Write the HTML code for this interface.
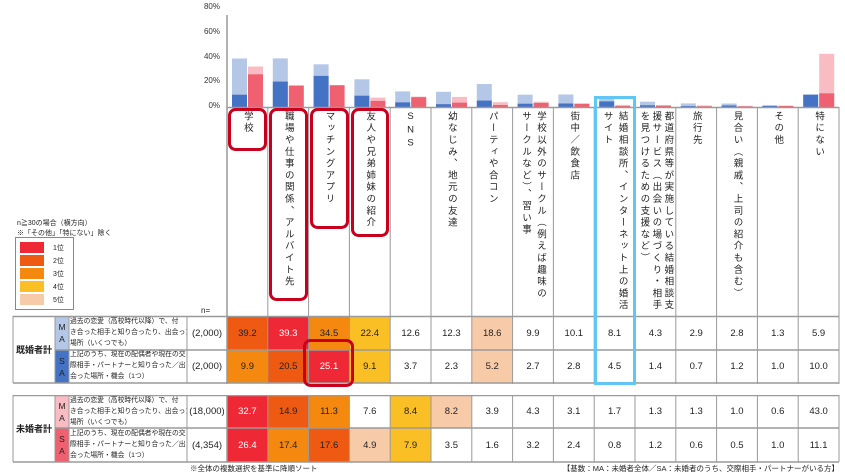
<!DOCTYPE html>
<html><head><meta charset="utf-8">
<style>
*{margin:0;padding:0;box-sizing:border-box}
body{width:845px;height:475px;background:#fff;position:relative;overflow:hidden;font-family:"Liberation Sans","Noto Sans CJK JP",sans-serif;color:#222}
.a{position:absolute}
.yl{position:absolute;right:625px;font-size:8px;color:#333}
.hd{position:absolute;top:111px;width:40.8px;height:205px;display:flex;justify-content:center}
.hd div{writing-mode:vertical-rl;text-orientation:upright;font-size:9.5px;letter-spacing:2.3px;line-height:15px;color:#222;white-space:nowrap}
.c{position:absolute;width:40.8px;display:flex;align-items:center;justify-content:center;font-size:9.5px;color:#222}
.w{color:#fff}
.desc{position:absolute;left:70px;width:117px;font-size:6.8px;line-height:10.8px;color:#222;white-space:nowrap;overflow:hidden}
.n{position:absolute;left:187px;width:40px;display:flex;align-items:center;justify-content:center;font-size:9.5px}
.sub{position:absolute;left:55px;width:14px;display:flex;align-items:center;justify-content:center;font-size:8.5px;line-height:12px;text-align:center}
.grp{position:absolute;left:13px;width:42px;display:flex;align-items:center;justify-content:center;font-size:9px;font-weight:bold}
.r1{background:#ee2835}.r2{background:#ef5a13}.r3{background:#f5880e}.r4{background:#f9bf25}.r5{background:#f8cba8}
</style></head><body>

<div class="yl" style="top:2px">80%</div>
<div class="yl" style="top:27px">60%</div>
<div class="yl" style="top:52px">40%</div>
<div class="yl" style="top:76px">20%</div>
<div class="yl" style="top:101px">0%</div>

<div class="c r2" style="left:227px;top:316px;height:34px">39.2</div>
<div class="c r1 w" style="left:267.8px;top:316px;height:34px">39.3</div>
<div class="c r3" style="left:308.6px;top:316px;height:34px">34.5</div>
<div class="c r4" style="left:349.4px;top:316px;height:34px">22.4</div>
<div class="c" style="left:390.2px;top:316px;height:34px">12.6</div>
<div class="c" style="left:431px;top:316px;height:34px">12.3</div>
<div class="c r5" style="left:471.8px;top:316px;height:34px">18.6</div>
<div class="c" style="left:512.6px;top:316px;height:34px">9.9</div>
<div class="c" style="left:553.4px;top:316px;height:34px">10.1</div>
<div class="c" style="left:594.2px;top:316px;height:34px">8.1</div>
<div class="c" style="left:635px;top:316px;height:34px">4.3</div>
<div class="c" style="left:675.8px;top:316px;height:34px">2.9</div>
<div class="c" style="left:716.6px;top:316px;height:34px">2.8</div>
<div class="c" style="left:757.4px;top:316px;height:34px">1.3</div>
<div class="c" style="left:798.2px;top:316px;height:34px">5.9</div>

<div class="c r3" style="left:227px;top:350px;height:33px">9.9</div>
<div class="c r2" style="left:267.8px;top:350px;height:33px">20.5</div>
<div class="c r1 w" style="left:308.6px;top:350px;height:33px">25.1</div>
<div class="c r4" style="left:349.4px;top:350px;height:33px">9.1</div>
<div class="c" style="left:390.2px;top:350px;height:33px">3.7</div>
<div class="c" style="left:431px;top:350px;height:33px">2.3</div>
<div class="c r5" style="left:471.8px;top:350px;height:33px">5.2</div>
<div class="c" style="left:512.6px;top:350px;height:33px">2.7</div>
<div class="c" style="left:553.4px;top:350px;height:33px">2.8</div>
<div class="c" style="left:594.2px;top:350px;height:33px">4.5</div>
<div class="c" style="left:635px;top:350px;height:33px">1.4</div>
<div class="c" style="left:675.8px;top:350px;height:33px">0.7</div>
<div class="c" style="left:716.6px;top:350px;height:33px">1.2</div>
<div class="c" style="left:757.4px;top:350px;height:33px">1.0</div>
<div class="c" style="left:798.2px;top:350px;height:33px">10.0</div>

<div class="c r1 w" style="left:227px;top:395px;height:33px">32.7</div>
<div class="c r2" style="left:267.8px;top:395px;height:33px">14.9</div>
<div class="c r3" style="left:308.6px;top:395px;height:33px">11.3</div>
<div class="c" style="left:349.4px;top:395px;height:33px">7.6</div>
<div class="c r4" style="left:390.2px;top:395px;height:33px">8.4</div>
<div class="c r5" style="left:431px;top:395px;height:33px">8.2</div>
<div class="c" style="left:471.8px;top:395px;height:33px">3.9</div>
<div class="c" style="left:512.6px;top:395px;height:33px">4.3</div>
<div class="c" style="left:553.4px;top:395px;height:33px">3.1</div>
<div class="c" style="left:594.2px;top:395px;height:33px">1.7</div>
<div class="c" style="left:635px;top:395px;height:33px">1.3</div>
<div class="c" style="left:675.8px;top:395px;height:33px">1.3</div>
<div class="c" style="left:716.6px;top:395px;height:33px">1.0</div>
<div class="c" style="left:757.4px;top:395px;height:33px">0.6</div>
<div class="c" style="left:798.2px;top:395px;height:33px">43.0</div>

<div class="c r1 w" style="left:227px;top:428px;height:34px">26.4</div>
<div class="c r3" style="left:267.8px;top:428px;height:34px">17.4</div>
<div class="c r2" style="left:308.6px;top:428px;height:34px">17.6</div>
<div class="c r5" style="left:349.4px;top:428px;height:34px">4.9</div>
<div class="c r4" style="left:390.2px;top:428px;height:34px">7.9</div>
<div class="c" style="left:431px;top:428px;height:34px">3.5</div>
<div class="c" style="left:471.8px;top:428px;height:34px">1.6</div>
<div class="c" style="left:512.6px;top:428px;height:34px">3.2</div>
<div class="c" style="left:553.4px;top:428px;height:34px">2.4</div>
<div class="c" style="left:594.2px;top:428px;height:34px">0.8</div>
<div class="c" style="left:635px;top:428px;height:34px">1.2</div>
<div class="c" style="left:675.8px;top:428px;height:34px">0.6</div>
<div class="c" style="left:716.6px;top:428px;height:34px">0.5</div>
<div class="c" style="left:757.4px;top:428px;height:34px">1.0</div>
<div class="c" style="left:798.2px;top:428px;height:34px">11.1</div>

<div class="grp" style="top:316px;height:67px">既婚者計</div>
<div class="grp" style="top:395px;height:67px">未婚者計</div>
<div class="sub" style="top:316px;height:34px;background:#b4c7e7">M<br>A</div>
<div class="sub" style="top:350px;height:33px;background:#4472c4">S<br>A</div>
<div class="sub" style="top:395px;height:33px;background:#f8bcc2">M<br>A</div>
<div class="sub" style="top:428px;height:34px;background:#ef6170">S<br>A</div>
<div class="desc" style="top:317px">過去の恋愛（高校時代以降）で、付<br>き合った相手と知り合ったり、出会った<br>場所（いくつでも）</div>
<div class="desc" style="top:350px">上記のうち、現在の配偶者や現在の交<br>際相手・パートナーと知り合った／出<br>会った場所・機会（1つ）</div>
<div class="desc" style="top:396px">過去の恋愛（高校時代以降）で、付<br>き合った相手と知り合ったり、出会った<br>場所（いくつでも）</div>
<div class="desc" style="top:429px">上記のうち、現在の配偶者や現在の交<br>際相手・パートナーと知り合った／出<br>会った場所・機会（1つ）</div>
<div class="n" style="top:316px;height:34px">(2,000)</div>
<div class="n" style="top:350px;height:33px">(2,000)</div>
<div class="n" style="top:395px;height:33px">(18,000)</div>
<div class="n" style="top:428px;height:34px">(4,354)</div>
<div class="a" style="left:201px;top:306px;font-size:8px">n=</div>

<div class="a" style="right:6px;top:384px;font-size:7.5px">【基数：既婚者】</div>
<div class="a" style="right:6px;top:463px;font-size:7.5px">【基数：MA：未婚者全体／SA：未婚者のうち、交際相手・パートナーがいる方】</div>
<div class="a" style="left:190px;top:463px;font-size:7.5px">※全体の複数選択を基準に降順ソート</div>

<div class="a" style="left:17px;top:218px;font-size:7px">n≧30の場合（横方向）</div>
<div class="a" style="left:17px;top:228px;font-size:7px">※「その他」「特にない」除く</div>
<div class="a" style="left:15px;top:237px;width:59px;height:73px;border:1.5px solid #888"></div>
<div class="a r1" style="left:20px;top:242px;width:24px;height:11px"></div>
<div class="a r2" style="left:20px;top:255px;width:24px;height:11px"></div>
<div class="a r3" style="left:20px;top:268px;width:24px;height:11px"></div>
<div class="a r4" style="left:20px;top:281px;width:24px;height:11px"></div>
<div class="a r5" style="left:20px;top:294px;width:24px;height:11px"></div>
<div class="a" style="left:53px;top:243px;font-size:7px">1位</div>
<div class="a" style="left:53px;top:256px;font-size:7px">2位</div>
<div class="a" style="left:53px;top:269px;font-size:7px">3位</div>
<div class="a" style="left:53px;top:282px;font-size:7px">4位</div>
<div class="a" style="left:53px;top:295px;font-size:7px">5位</div>

<div class="hd" style="left:227px"><div>学校</div></div>
<div class="hd" style="left:267.8px"><div>職場や仕事の関係、アルバイト先</div></div>
<div class="hd" style="left:308.6px"><div>マッチングアプリ</div></div>
<div class="hd" style="left:349.4px"><div>友人や兄弟姉妹の紹介</div></div>
<div class="hd" style="left:390.2px"><div>SNS</div></div>
<div class="hd" style="left:431px"><div>幼なじみ、地元の友達</div></div>
<div class="hd" style="left:471.8px"><div>パーティや合コン</div></div>
<div class="hd" style="left:512.6px"><div>学校以外のサークル（例えば趣味の<br>サークルなど）、習い事</div></div>
<div class="hd" style="left:553.4px"><div>街中／飲食店</div></div>
<div class="hd" style="left:594.2px"><div>結婚相談所、インターネット上の婚活<br>サイト</div></div>
<div class="hd" style="left:635px"><div style="line-height:12px">都道府県等が実施している結婚相談支<br>援サービス（出会いの場づくり・相手<br>を見つけるための支援など）</div></div>
<div class="hd" style="left:675.8px"><div>旅行先</div></div>
<div class="hd" style="left:716.6px"><div>見合い（親戚、上司の紹介も含む）</div></div>
<div class="hd" style="left:757.4px"><div>その他</div></div>
<div class="hd" style="left:798.2px"><div>特にない</div></div>

<svg class="a" style="left:0;top:0" width="845" height="475" viewBox="0 0 845 475">
<g>
<g transform="translate(227,107)"><rect x="5" y="-48.5" width="15" height="48.5" fill="#b4c7e7"/><rect x="5" y="-12.3" width="15" height="12.3" fill="#4472c4"/><rect x="21" y="-40.5" width="15" height="40.5" fill="#f8bcc2"/><rect x="21" y="-32.7" width="15" height="32.7" fill="#ef6170"/></g>
<g transform="translate(267.8,107)"><rect x="5" y="-48.6" width="15" height="48.6" fill="#b4c7e7"/><rect x="5" y="-25.4" width="15" height="25.4" fill="#4472c4"/><rect x="21" y="-21.5" width="15" height="21.5" fill="#ef6170"/></g>
<g transform="translate(308.6,107)"><rect x="5" y="-42.7" width="15" height="42.7" fill="#b4c7e7"/><rect x="5" y="-31.1" width="15" height="31.1" fill="#4472c4"/><rect x="21" y="-21.8" width="15" height="21.8" fill="#ef6170"/></g>
<g transform="translate(349.4,107)"><rect x="5" y="-27.7" width="15" height="27.7" fill="#b4c7e7"/><rect x="5" y="-11.3" width="15" height="11.3" fill="#4472c4"/><rect x="21" y="-9.4" width="15" height="9.4" fill="#f8bcc2"/><rect x="21" y="-6.1" width="15" height="6.1" fill="#ef6170"/></g>
<g transform="translate(390.2,107)"><rect x="5" y="-15.6" width="15" height="15.6" fill="#b4c7e7"/><rect x="5" y="-4.6" width="15" height="4.6" fill="#4472c4"/><rect x="21" y="-10.4" width="15" height="10.4" fill="#f8bcc2"/><rect x="21" y="-9.8" width="15" height="9.8" fill="#ef6170"/></g>
<g transform="translate(431,107)"><rect x="5" y="-15.2" width="15" height="15.2" fill="#b4c7e7"/><rect x="5" y="-2.8" width="15" height="2.8" fill="#4472c4"/><rect x="21" y="-10.1" width="15" height="10.1" fill="#f8bcc2"/><rect x="21" y="-4.3" width="15" height="4.3" fill="#ef6170"/></g>
<g transform="translate(471.8,107)"><rect x="5" y="-23" width="15" height="23" fill="#b4c7e7"/><rect x="5" y="-6.4" width="15" height="6.4" fill="#4472c4"/><rect x="21" y="-4.8" width="15" height="4.8" fill="#f8bcc2"/><rect x="21" y="-2" width="15" height="2" fill="#ef6170"/></g>
<g transform="translate(512.6,107)"><rect x="5" y="-12.3" width="15" height="12.3" fill="#b4c7e7"/><rect x="5" y="-3.3" width="15" height="3.3" fill="#4472c4"/><rect x="21" y="-5.3" width="15" height="5.3" fill="#f8bcc2"/><rect x="21" y="-4" width="15" height="4" fill="#ef6170"/></g>
<g transform="translate(553.4,107)"><rect x="5" y="-12.5" width="15" height="12.5" fill="#b4c7e7"/><rect x="5" y="-3.5" width="15" height="3.5" fill="#4472c4"/><rect x="21" y="-3.8" width="15" height="3.8" fill="#f8bcc2"/><rect x="21" y="-3" width="15" height="3" fill="#ef6170"/></g>
<g transform="translate(594.2,107)"><rect x="5" y="-10" width="15" height="10" fill="#b4c7e7"/><rect x="5" y="-5.6" width="15" height="5.6" fill="#4472c4"/><rect x="21" y="-2.1" width="15" height="2.1" fill="#f8bcc2"/><rect x="21" y="-1" width="15" height="1" fill="#ef6170"/></g>
<g transform="translate(635,107)"><rect x="5" y="-5.3" width="15" height="5.3" fill="#b4c7e7"/><rect x="5" y="-1.7" width="15" height="1.7" fill="#4472c4"/><rect x="21" y="-1.6" width="15" height="1.6" fill="#f8bcc2"/><rect x="21" y="-1.5" width="15" height="1.5" fill="#ef6170"/></g>
<g transform="translate(675.8,107)"><rect x="5" y="-3.6" width="15" height="3.6" fill="#b4c7e7"/><rect x="5" y="-0.9" width="15" height="0.9" fill="#4472c4"/><rect x="21" y="-1.6" width="15" height="1.6" fill="#f8bcc2"/><rect x="21" y="-0.7" width="15" height="0.7" fill="#ef6170"/></g>
<g transform="translate(716.6,107)"><rect x="5" y="-3.5" width="15" height="3.5" fill="#b4c7e7"/><rect x="5" y="-1.5" width="15" height="1.5" fill="#4472c4"/><rect x="21" y="-1.2" width="15" height="1.2" fill="#f8bcc2"/><rect x="21" y="-0.6" width="15" height="0.6" fill="#ef6170"/></g>
<g transform="translate(757.4,107)"><rect x="5" y="-1.6" width="15" height="1.6" fill="#b4c7e7"/><rect x="5" y="-1.2" width="15" height="1.2" fill="#4472c4"/><rect x="21" y="-1.2" width="15" height="1.2" fill="#ef6170"/></g>
<g transform="translate(798.2,107)"><rect x="5" y="-12.4" width="15" height="12.4" fill="#4472c4"/><rect x="21" y="-53.2" width="15" height="53.2" fill="#f8bcc2"/><rect x="21" y="-13.7" width="15" height="13.7" fill="#ef6170"/></g>
</g>
<g stroke="#9a9a9a" stroke-width="1" fill="none">
<line x1="227" y1="15" x2="227" y2="462" stroke-width="1.5"/>
<line x1="227" y1="107.5" x2="839" y2="107.5" stroke-width="1.5"/>
<path d="M267.8 107V462M308.6 107V462M349.4 107V462M390.2 107V462M431 107V462M471.8 107V462M512.6 107V462M553.4 107V462M594.2 107V462M635 107V462M675.8 107V462M716.6 107V462M757.4 107V462M798.2 107V462M839 107V462"/>
<path d="M13 316V383M55 316V383M69 316V383M187 316V383M13 395V462M55 395V462M69 395V462M187 395V462"/>
<path d="M13 316.5H839M55 350H839M13 383H839M13 395.5H839M55 428H839M13 462H839" stroke-width="1.5"/>
</g>
<rect x="0" y="384" width="845" height="11" fill="#fff"/>
<g fill="none" stroke="#c8001e" stroke-width="3">
<rect x="229.5" y="109.5" width="36" height="40" rx="6"/>
<rect x="270.5" y="109.5" width="36" height="190" rx="6"/>
<rect x="311.5" y="109.5" width="36" height="118" rx="6"/>
<rect x="352.5" y="109.5" width="35" height="126" rx="6"/>
<rect x="304.5" y="340.5" width="48" height="45" rx="6"/>
</g>
<rect x="595.5" y="97.5" width="39" height="286" fill="none" stroke="#62c6f4" stroke-width="3"/>
</svg>
</body></html>
